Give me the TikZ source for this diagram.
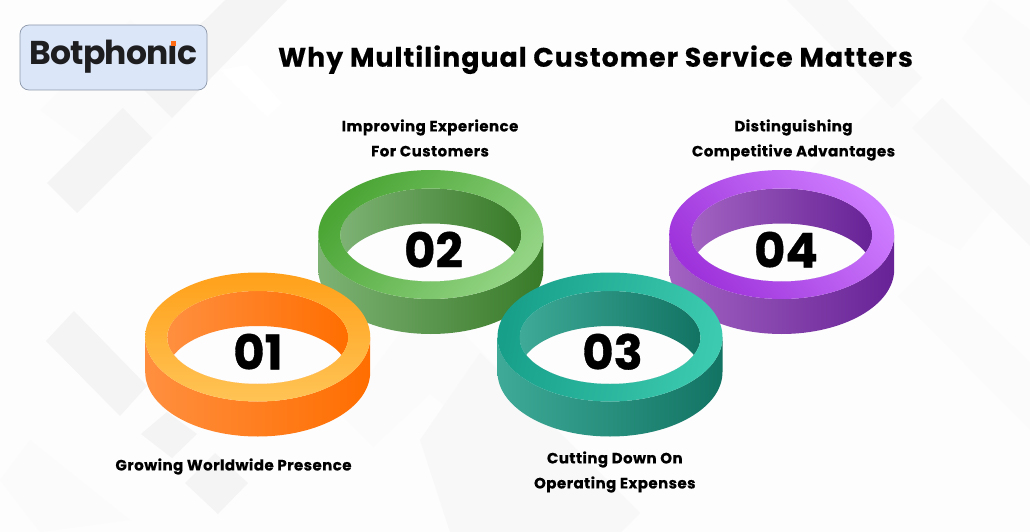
\documentclass[tikz,border=0pt]{standalone}
\usepackage{fontspec}
\setmainfont{Poppins}[BoldFeatures={FakeBold=0.7}]
\newfontfamily\titlefont{Poppins}[LetterSpace=4,BoldFont={Poppins Bold},BoldFeatures={FakeBold=0.4}]
\newfontfamily\labelfont{Poppins}[LetterSpace=3,BoldFont={Poppins Bold},BoldFeatures={FakeBold=0.4}]
\newfontfamily\logofont{Poppins}[LetterSpace=-2.5,BoldFont={Poppins Bold}]
\definecolor{bgbase}{HTML}{FDFDFD}
\definecolor{bgA}{HTML}{F4F4F4}
\definecolor{bgB}{HTML}{F8F8F8}
\definecolor{bgC}{HTML}{FBFBFB}
\definecolor{logofill}{HTML}{DBE6F9}
\definecolor{logoline}{HTML}{8E99AB}
\definecolor{logotext}{HTML}{1E1E20}
\definecolor{logodot}{HTML}{FF6A13}
\definecolor{oA}{HTML}{FFA01A}\definecolor{oB}{HTML}{FFC455}\definecolor{oL}{HTML}{FF8F3F}\definecolor{oR}{HTML}{FF6E00}
\definecolor{gA}{HTML}{4AA534}\definecolor{gB}{HTML}{93D484}\definecolor{gL}{HTML}{7DB274}\definecolor{gR}{HTML}{387A28}
\definecolor{tA}{HTML}{179F8A}\definecolor{tB}{HTML}{3CCBB0}\definecolor{tL}{HTML}{3EAA97}\definecolor{tR}{HTML}{127363}
\definecolor{pA}{HTML}{9E33DB}\definecolor{pB}{HTML}{CE7CFF}\definecolor{pL}{HTML}{A263C2}\definecolor{pR}{HTML}{672296}
\tikzset{
  lbl/.style={font=\labelfont\bfseries\fontsize{15}{25}\selectfont,align=center,text=black,inner sep=0pt,anchor=center},
  numlbl/.style={font=\bfseries\fontsize{48}{48}\selectfont,text=black,inner sep=0pt,anchor=base},
  bgdark/.style={fill=bgA},
  bgmid/.style={fill=bgB},
  bglight/.style={fill=bgC}
}
% cx, cy (px), annulus colours A B, shading angle, wall colours L R
\newcommand{\ringthing}[7]{%
  \begin{scope}[shift={(#1,-#2)}]
    \shade[left color=#6,right color=#7] (-112.5,0) -- (-112.5,-35)
      arc[start angle=180,end angle=360,x radius=112.5,y radius=64.5] -- (112.5,0)
      arc[start angle=0,end angle=-180,x radius=112.5,y radius=64.5] -- cycle;
    \begin{scope}
      \clip (0,-0.5) ellipse[x radius=90.5,y radius=46.5];
      \shade[left color=#6,right color=#7,even odd rule] (0,-0.5) ellipse[x radius=90.5,y radius=46.5]
        (0,-35.5) ellipse[x radius=90.5,y radius=46.5];
    \end{scope}
    \shade[top color=#3,bottom color=#4,shading angle=#5,even odd rule]
      (0,0) ellipse[x radius=112.5,y radius=64.5]
      (0,-0.5) ellipse[x radius=90.5,y radius=46.5];
  \end{scope}}
\begin{document}
\begin{tikzpicture}[x=1pt,y=1pt]
\useasboundingbox (0,0) rectangle (1030,-532);
\fill[bgbase] (0,0) rectangle (1030,-532);
% background facets
\fill[bglight] (40,-110) -- (130,-20) -- (200,-90) -- (120,-170) -- cycle;
\fill[bglight] (810,-170) -- (890,-90) -- (1000,-200) -- (960,-250) -- cycle;
\fill[bglight] (962,-39) -- (1030,-105) -- (1030,-30) -- (990,0) -- cycle;
\fill[bglight] (30,-440) -- (130,-520) -- (40,-532) -- (0,-480) -- cycle;
\fill[bgdark] (123,-108) -- (152,-138) -- (77,-213) -- (47,-183) -- cycle;
\fill[bgdark] (225,0) -- (287,0) -- (172,-118) -- (132,-78) -- (205,-20) -- cycle;
\fill[white] (247,-65) -- (282,-103) -- (267,-117) -- (220,-70) -- cycle;
\fill[bgdark] (74,-311) -- (46,-341) -- (120,-416) -- (147,-386) -- cycle;
\fill[bgdark] (167,-412) -- (197,-434) -- (172,-458) -- (141,-434) -- cycle;
\fill[bgdark] (215,-453) -- (248,-483) -- (218,-514) -- (185,-483) -- cycle;
\fill[bgC] (400,-333) -- (462,-333) -- (520,-390) -- (515,-462) -- (430,-394) -- (373,-447) -- (340,-414) -- cycle;
\fill[bgB] (480,-353) -- (640,-513) -- (621,-532) -- (450,-532) -- (420,-440) -- cycle;
\fill[bgmid] (787,0) -- (847,0) -- (922,-78) -- (892,-108) -- cycle;
\fill[bgmid] (942,-98) -- (1030,-186) -- (1030,-246) -- (912,-128) -- cycle;
\fill[bglight] (928,-266) -- (1030,-362) -- (1030,-430) -- (898,-296) -- cycle;
% logo
\node[draw=logoline,fill=logofill,rounded corners=9pt,line width=0.7pt,minimum width=187pt,minimum height=65pt,inner sep=0pt] (logobox) at (113.5,-57.5) {};
\node[inner sep=0pt,anchor=base,text=logotext] (logotxt) at (113.5,-65) {\logofont\bfseries\fontsize{33}{33}\selectfont Botphon\i c};
\fill[logodot] (171,-41) rectangle (176,-46);
% title
\node[inner sep=0pt,anchor=base] (title) at (595.5,-66.7) {\titlefont\bfseries\fontsize{26.7}{26.7}\selectfont Why Multilingual Customer Service Matters};
% rings
\ringthing{430.8}{234.5}{gA}{gB}{50}{gL}{gR}
\ringthing{781.7}{234.5}{pB}{pA}{-50}{pL}{pR}
\ringthing{257.7}{337}{oA}{oB}{0}{oL}{oR}
\ringthing{610}{337}{tA}{tB}{80}{tL}{tR}
% numbers
\node[numlbl] (n1) at (258,-369.5) {01};
\node[numlbl] (n2) at (433.5,-267.5) {02};
\node[numlbl] (n3) at (612.5,-369.5) {03};
\node[numlbl] (n4) at (786,-267.5) {04};
% labels
\node[lbl] (l1) at (233.5,-466.5) {Growing Worldwide Presence};
\node[lbl] (l2) at (430,-138) {Improving Experience\\For Customers};
\node[lbl] (l3) at (614.8,-472) {Cutting Down On\\Operating Expenses};
\node[lbl] (l4) at (793.5,-140) {Distinguishing\\Competitive Advantages};
\end{tikzpicture}
\end{document}
